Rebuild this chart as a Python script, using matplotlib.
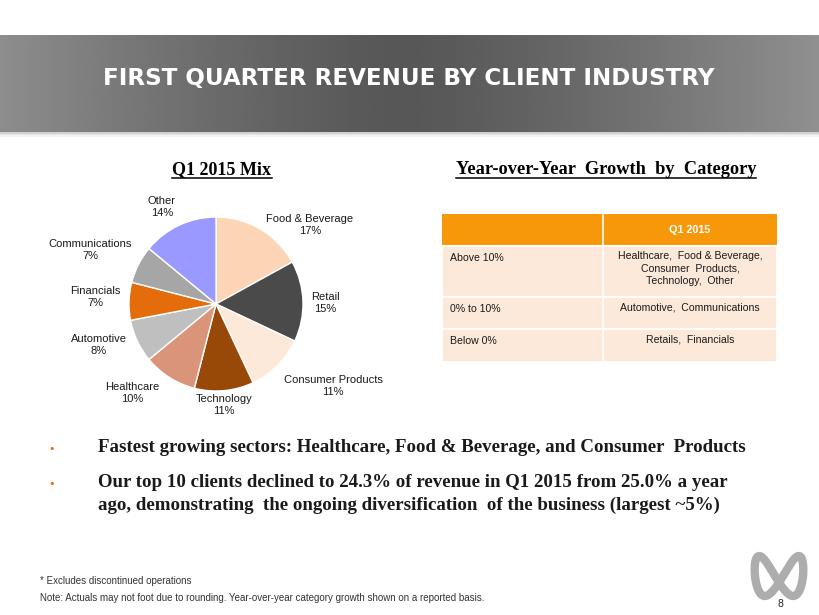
import numpy as np
import matplotlib
matplotlib.use("Agg")
import matplotlib.pyplot as plt
from matplotlib.patches import Rectangle

# ---- data ----
industries = ["Food & Beverage", "Retail", "Consumer Products", "Technology",
              "Healthcare", "Automotive", "Financials", "Communications", "Other"]
shares = [17, 15, 11, 11, 10, 8, 7, 7, 14]

table_header = ["", "Q1 2015"]
growth_bands = ["Above 10%", "0% to 10%", "Below 0%"]
growth_members = ["Healthcare,  Food & Beverage,\nConsumer  Products,\nTechnology,  Other",
                  "Automotive,  Communications",
                  "Retails,  Financials"]

title = "FIRST QUARTER REVENUE BY CLIENT INDUSTRY"
pie_title = "Q1 2015 Mix"
table_title = "Year-over-Year  Growth  by  Category"
bullets = ["Fastest growing sectors: Healthcare, Food & Beverage, and Consumer  Products",
           "Our top 10 clients declined to 24.3% of revenue in Q1 2015 from 25.0% a year\n"
           "ago, demonstrating  the ongoing diversification  of the business (largest ~5%)"]
footnotes = ["* Excludes discontinued operations",
             "Note: Actuals may not foot due to rounding. Year-over-year category growth shown on a reported basis."]
page_no = "8"

# ---- styles ----
wedge_colors = ["#FBD5B5", "#4A4A4A", "#FDE9D9", "#984807", "#D99479",
                "#BFBFBF", "#E46C0A", "#A6A6A6", "#9999FF"]
# label centres in pixels
label_px = [(310, 225), (325, 303), (333, 386), (224, 405), (132, 393),
            (99, 345), (95, 297), (90, 250), (162, 207)]
pie_c = (216, 304)
pie_r = 87
half = 180

W, H = 820, 615
fig = plt.figure(figsize=(W / 100, H / 100), dpi=100)
fig.patch.set_facecolor("white")

ax = fig.add_axes([0, 0, 1, 1])
ax.set_xlim(0, W)
ax.set_ylim(H, 0)
ax.axis("off")

# header band with horizontal gradient
xs = np.linspace(-1, 1, 400)
shade = 0.34 + 0.22 * np.abs(xs + 0.02) ** 1.3
grad = np.tile(shade, (10, 1))
ax.imshow(grad, cmap="gray", vmin=0, vmax=1, extent=(0, W, 132, 35),
          aspect="auto", zorder=1)
for i, a in enumerate([0.18, 0.10, 0.05]):
    ax.add_patch(Rectangle((0, 132 + i * 1.5), W, 1.5, color="black", alpha=a,
                           lw=0, zorder=1))
ax.text(409, 79, title, color="white", fontsize=16.6, fontweight="bold",
        family="DejaVu Sans", ha="center", va="center", zorder=2)

# section titles
t1 = ax.text(222, 170, pie_title, fontsize=13, fontweight="bold",
             family="Liberation Serif", ha="center", va="center")
t2 = ax.text(606, 170, table_title, fontsize=13.2, fontweight="bold",
             family="Liberation Serif", ha="center", va="center")

# table
tx0, tx1, tdiv = 442, 777, 603
row_edges = [214, 246, 297, 329, 362]
ax.add_patch(Rectangle((tx0, row_edges[0]), tx1 - tx0, row_edges[1] - row_edges[0],
                       color="#F7980A", lw=0))
for i in range(len(growth_bands)):
    y0, y1 = row_edges[i + 1], row_edges[i + 2]
    ax.add_patch(Rectangle((tx0, y0), tx1 - tx0, y1 - y0, facecolor="#FDE9D9",
                           edgecolor="white", lw=1.2))
    ax.text(450, y0 + 12, growth_bands[i], fontsize=7.6, family="Liberation Sans",
            ha="left", va="center", color="#1a1a1a")
    ax.text((tdiv + tx1) / 2, y0 + 5, growth_members[i], fontsize=7.6,
            family="Liberation Sans", ha="center", va="top", color="#1a1a1a",
            linespacing=1.3)
ax.plot([tdiv, tdiv], [row_edges[0], row_edges[-1]], color="white", lw=1.2)
ax.plot([tx0, tx1], [row_edges[1], row_edges[1]], color="white", lw=1.5)
ax.text((tdiv + tx1) / 2, (row_edges[0] + row_edges[1]) / 2, table_header[1],
        fontsize=7.8, fontweight="bold", family="Liberation Sans", color="white",
        ha="center", va="center")

# bullets
bullet_y = [449, 484]
for y, s in zip(bullet_y, bullets):
    ax.text(52, y, "•", color="#E46C0A", fontsize=8, ha="center", va="center")
    ax.text(98, y - 10, s, fontsize=13.6, fontweight="bold", family="Liberation Serif",
            ha="left", va="top", linespacing=1.4, color="#1a1a1a")

# footnotes
ax.text(40, 581, footnotes[0], fontsize=7.0, family="Liberation Sans",
        ha="left", va="center", color="#333333")
ax.text(40, 598, footnotes[1], fontsize=7.0, family="Liberation Sans",
        ha="left", va="center", color="#333333")

# logo
t = np.linspace(0, 2 * np.pi, 300)
lx = 779 + 24 * np.cos(t) - 4 * np.sin(t)
ly = 576 + 40 * np.sin(t) * np.cos(t)
ax.plot(lx, ly, color="#ADADAD", lw=6, solid_capstyle="round")
ax.text(780, 604, page_no, fontsize=7.5, family="Liberation Sans",
        ha="center", va="center", color="#222222")

# pie
pax = fig.add_axes([(pie_c[0] - half) / W, (H - pie_c[1] - half) / H,
                    2 * half / W, 2 * half / H])
pax.pie(shares, colors=wedge_colors, startangle=90, counterclock=False,
        wedgeprops=dict(edgecolor="white", linewidth=1))
pax.set_xlim(-half / pie_r, half / pie_r)
pax.set_ylim(-half / pie_r, half / pie_r)
pax.set_aspect("equal")
pax.axis("off")
for name, val, (px, py) in zip(industries, shares, label_px):
    pax.text((px - pie_c[0]) / pie_r, (pie_c[1] - py) / pie_r, f"{name}\n{val}%",
             fontsize=8, family="Liberation Sans", ha="center", va="center",
             color="#1a1a1a", linespacing=1.2)

# underline the section titles
fig.canvas.draw()
renderer = fig.canvas.get_renderer()
inv = ax.transData.inverted()
for tt in (t1, t2):
    bb = tt.get_window_extent(renderer)
    (x0, y0), (x1, y1) = inv.transform([(bb.x0, bb.y0), (bb.x1, bb.y1)])
    ax.plot([x0, x1], [y0 - 1, y0 - 1], color="black", lw=1.1)

fig.savefig("out.png", dpi=100)
